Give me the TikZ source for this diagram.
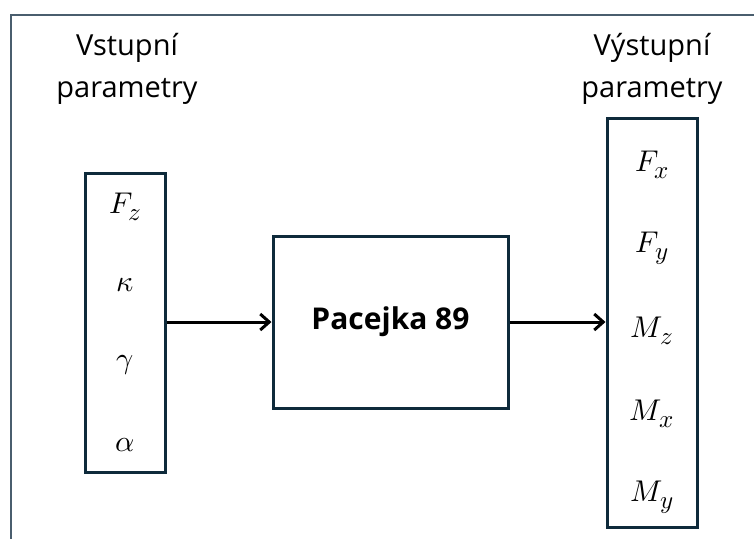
\documentclass[tikz,border=0pt]{standalone}
\usepackage{fontspec}
\usepackage{unicode-math}
\setmainfont{Open Sans}
\setmathfont{Latin Modern Math}
\usetikzlibrary{arrows.meta}
\definecolor{boxc}{HTML}{0E2A3B}
\definecolor{framec}{HTML}{4A5E6E}
\newcommand{\subsym}[3]{$#1$\kern#3\raisebox{-7pt}{\fontsize{25}{25}\selectfont$#2$}}
\begin{document}
\begin{tikzpicture}[x=1pt,y=-1pt,
  blk/.style={draw=boxc,line width=3pt,minimum width=#1,inner sep=0pt},
  lbl/.style={font=\fontsize{30}{32}\selectfont},
  ttl/.style={font=\fontsize{29}{42}\selectfont,align=center},
  arr/.style={-{Straight Barb[length=9pt,width=16pt]}}]
\useasboundingbox (0,0) rectangle (754,538);
\fill[white] (0,0) rectangle (754,538);
\coordinate (fa) at (754,15);
\coordinate (fb) at (11,15);
\coordinate (fc) at (11,540);
\draw[framec,line width=1.5pt] (fa) -- (fb) -- (fc);
% boxes
\node[blk=80pt,minimum height=299pt] (in) at (125,322.5) {};
\node[blk=235pt,minimum height=172pt] (pj) at (390.5,322) {};
\node[draw=none,font=\fontsize{30}{32}\selectfont\bfseries] (pjt) at (390.5,322) {Pacejka 89};
\node[blk=90pt,minimum height=409pt] (out) at (652,322.5) {};
% titles
\node[ttl] (tin) at (127,69) {Vstupní\\parametry};
\node[ttl] (tout) at (652,69) {Výstupní\\parametry};
% input labels
\node[lbl] (fz) at (125,207) {\subsym{F}{z}{-4pt}};
\node[lbl] (ka) at (125,285) {$\kappa$};
\node[lbl] (ga) at (125,365) {$\gamma$};
\node[lbl] (al) at (125,445) {$\alpha$};
% output labels
\node[lbl] (fx) at (652,165) {\subsym{F}{x}{-4pt}};
\node[lbl] (fy) at (652,248) {\subsym{F}{y}{-4pt}};
\node[lbl] (mz) at (652,331) {\subsym{M}{z}{-2pt}};
\node[lbl] (mx) at (652,414) {\subsym{M}{x}{-2pt}};
\node[lbl] (my) at (652,497) {\subsym{M}{y}{-2pt}};
% arrows
\draw[arr,line width=3pt,black] (in.east |- pj.west) -- (pj.west);
\draw[arr,line width=3pt,black] (pj.east) -- (out.west |- pj.east);
\end{tikzpicture}
\end{document}
